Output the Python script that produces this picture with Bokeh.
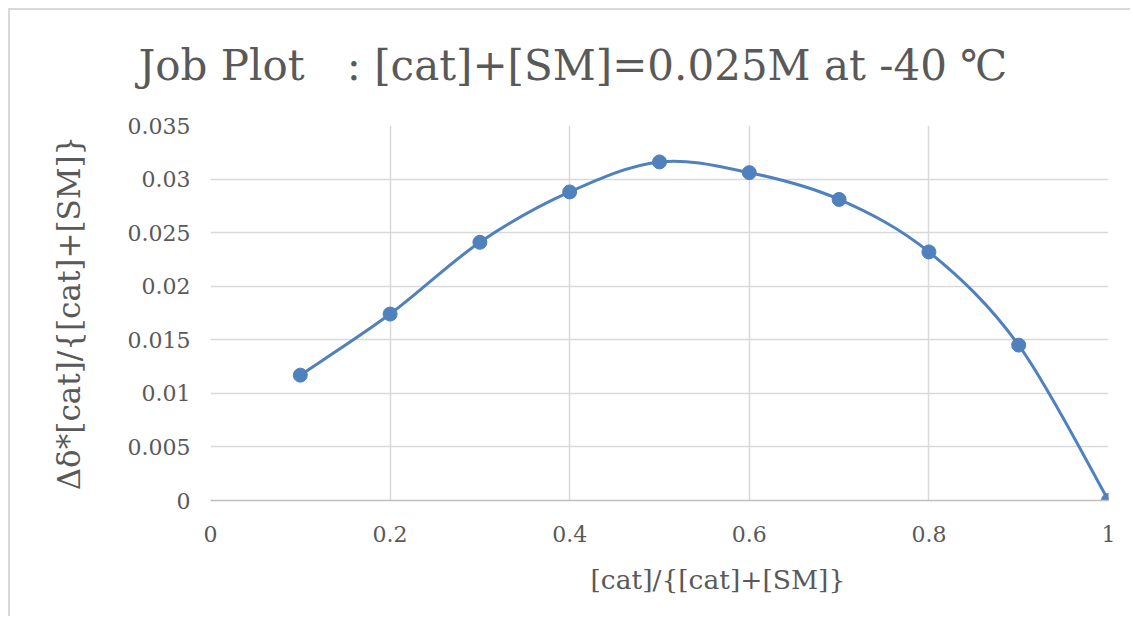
import numpy as np
from bokeh.plotting import figure
from bokeh.models import FixedTicker, Title, ColumnDataSource
from bokeh.embed import file_html
from bokeh.resources import INLINE

# ---- data ----
x_vals = [0.1, 0.2, 0.3, 0.4, 0.5, 0.6, 0.7, 0.8, 0.9, 1.0]
y_vals = [0.0117, 0.0174, 0.0241, 0.0288, 0.0316, 0.0306, 0.0281, 0.0232, 0.0145, 0.0]
x_ticks = [0, 0.2, 0.4, 0.6, 0.8, 1.0]
x_tick_labels = ["0", "0.2", "0.4", "0.6", "0.8", "1"]
y_ticks = [0, 0.005, 0.01, 0.015, 0.02, 0.025, 0.03, 0.035]
y_tick_labels = ["0", "0.005", "0.01", "0.015", "0.02", "0.025", "0.03", "0.035"]
title_text = "Job Plot\u3000: [cat]+[SM]=0.025M at -40 \u2103"
x_label = "[cat]/{[cat]+[SM]}"
y_label = "\u0394\u03b4*[cat]/{[cat]+[SM]}"

FONT = "DejaVu Serif"
TXT = "#595959"
BLUE = "#4f81bd"
GRID = "#d9d9d9"

# ---- smoothed-line control points (Catmull-Rom -> Bezier, as in Excel's smoothing) ----
X = np.array(x_vals)
Y = np.array(y_vals)
n = len(X)
Xp = np.concatenate([[X[0]], X, [X[-1]]])
Yp = np.concatenate([[Y[0]], Y, [Y[-1]]])
seg = dict(x0=[], y0=[], x1=[], y1=[], cx0=[], cy0=[], cx1=[], cy1=[])
for i in range(n - 1):
    j = i + 1
    seg["x0"].append(X[i]); seg["y0"].append(Y[i])
    seg["x1"].append(X[i + 1]); seg["y1"].append(Y[i + 1])
    seg["cx0"].append(X[i] + (Xp[j + 1] - Xp[j - 1]) / 6)
    seg["cy0"].append(Y[i] + (Yp[j + 1] - Yp[j - 1]) / 6)
    seg["cx1"].append(X[i + 1] - (Xp[j + 2] - Xp[j]) / 6)
    seg["cy1"].append(Y[i + 1] - (Yp[j + 2] - Yp[j]) / 6)

p = figure(frame_width=898, frame_height=375, output_backend="svg", toolbar_location=None,
           x_range=(0, 1), y_range=(0, 0.035), title=None,
           min_border_left=210, min_border_right=22, min_border_top=125, min_border_bottom=116)
p.outline_line_color = None
p.background_fill_color = "white"
p.border_fill_alpha = 0
# chart-area frame lines (top and left) drawn behind the transparent canvas
p.styles = {
    "background": ("linear-gradient(#d9d9d9, #d9d9d9) 8px 8px / 100% 2px no-repeat, "
                   "linear-gradient(#d9d9d9, #d9d9d9) 8px 8px / 2px 100% no-repeat, white"),
}

# title (placed like Excel's, left of the frame centre)
p.add_layout(Title(text=title_text, align="left", offset=-72, standoff=72,
                   text_font=FONT, text_font_size="42px", text_color=TXT,
                   text_font_style="normal"), "above")

p.xaxis.ticker = FixedTicker(ticks=x_ticks)
p.yaxis.ticker = FixedTicker(ticks=y_ticks)
p.xaxis.major_label_overrides = {t: l for t, l in zip(x_ticks, x_tick_labels)}
p.yaxis.major_label_overrides = {t: l for t, l in zip(y_ticks, y_tick_labels)}
for ax in (p.xaxis, p.yaxis):
    ax.major_tick_line_color = None
    ax.minor_tick_line_color = None
    ax.major_label_text_font = FONT
    ax.major_label_text_font_size = "22px"
    ax.major_label_text_color = TXT
p.yaxis.axis_line_color = None
p.xaxis.axis_line_color = "#bfbfbf"
p.xaxis.axis_line_width = 1.5
p.xaxis.major_label_standoff = 19
p.yaxis.major_label_standoff = 14

p.yaxis.axis_label = y_label
p.yaxis.axis_label_text_font = FONT
p.yaxis.axis_label_text_font_size = "31px"
p.yaxis.axis_label_text_font_style = "normal"
p.yaxis.axis_label_text_color = TXT
p.yaxis.axis_label_standoff = 38

p.add_layout(Title(text=x_label, align="left", offset=380, standoff=35,
                   text_font=FONT, text_font_size="26.5px", text_color=TXT,
                   text_font_style="normal"), "below")

p.xgrid.grid_line_color = GRID
p.ygrid.grid_line_color = GRID
p.xgrid.grid_line_width = 1.5
p.ygrid.grid_line_width = 1.5

p.bezier(x0="x0", y0="y0", x1="x1", y1="y1", cx0="cx0", cy0="cy0", cx1="cx1", cy1="cy1",
         source=ColumnDataSource(seg), line_color=BLUE, line_width=3)
p.scatter(x_vals, y_vals, size=14, color=BLUE)

open("out.html", "w").write(file_html(p, INLINE))
